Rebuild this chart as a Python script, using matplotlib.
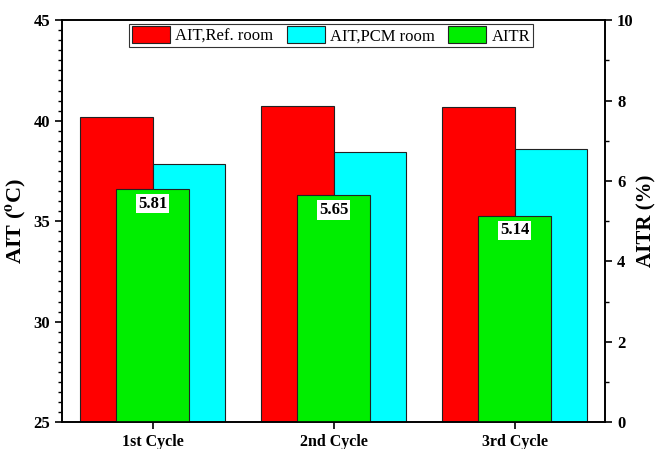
import numpy as np
import matplotlib
matplotlib.use('Agg')
import matplotlib.pyplot as plt
from matplotlib.ticker import MultipleLocator

plt.rcParams['font.family'] = 'Liberation Serif'
plt.rcParams['mathtext.fontset'] = 'stix'

cycles = ['1st Cycle', '2nd Cycle', '3rd Cycle']
ait_ref = [40.16, 40.74, 40.69]
ait_pcm = [37.84, 38.42, 38.58]
aitr = [5.81, 5.65, 5.14]

x = np.arange(len(cycles))
w = 0.4

fig = plt.figure(figsize=(6.6, 4.49), dpi=100)
ax = fig.add_axes([0.094, 0.060, 0.823, 0.895])
ax2 = ax.twinx()

b1 = ax.bar(x - w / 2, ait_ref, w, color='#ff0000', edgecolor='#222222', linewidth=0.8, label='AIT,Ref. room')
b2 = ax.bar(x + w / 2, ait_pcm, w, color='#00ffff', edgecolor='#222222', linewidth=0.8, label='AIT,PCM room')
b3 = ax2.bar(x, aitr, w, color='#00ee00', edgecolor='#222222', linewidth=0.8, label='AITR')

for xi, v in zip(x, aitr):
    ax2.annotate(f'{v:.2f}', (xi, v), xytext=(0, -5), textcoords='offset points',
                 ha='center', va='top', fontsize=12, fontweight='bold',
                 bbox=dict(boxstyle='square,pad=0.1', fc='white', ec='none'))

ax.set_xlim(-0.5, 2.5)
ax.set_ylim(25, 45)
ax2.set_ylim(0, 10)
ax.set_xticks(x)
ax.set_xticklabels(cycles, fontsize=11.5, fontweight='bold')
ax.yaxis.set_major_locator(MultipleLocator(5))
ax.yaxis.set_minor_locator(MultipleLocator(0.5))
ax2.yaxis.set_major_locator(MultipleLocator(2))
ax2.yaxis.set_minor_locator(MultipleLocator(1))

for a in (ax, ax2):
    a.tick_params(direction='out', width=1.2, length=5, labelsize=12)
    a.tick_params(which='minor', direction='out', width=1.0, length=3)
    for lab in a.get_yticklabels():
        lab.set_fontweight('bold')
    for s in a.spines.values():
        s.set_linewidth(1.2)
ax.tick_params(axis='x', which='minor', bottom=False)
ax.tick_params(axis='x', labelsize=11.5)

ax.set_ylabel('AIT ($\\mathbf{^{o}}$C)', fontsize=16, fontweight='bold', labelpad=3)
ax2.set_ylabel('AITR (%)', fontsize=15, fontweight='bold', labelpad=2)

# legend on the twin axes so it sits above every bar
leg = ax2.legend(handles=[b1, b2, b3], loc='upper center', ncol=3, fontsize=12,
                 bbox_to_anchor=(0.495, 0.995), frameon=True, fancybox=False,
                 edgecolor='#333333', framealpha=1, handlelength=2.3, handleheight=1.2,
                 handletextpad=0.3, columnspacing=0.8, borderpad=0.15,
                 borderaxespad=0.1)
leg.get_frame().set_linewidth(0.8)

fig.savefig('out.png', dpi=100)
